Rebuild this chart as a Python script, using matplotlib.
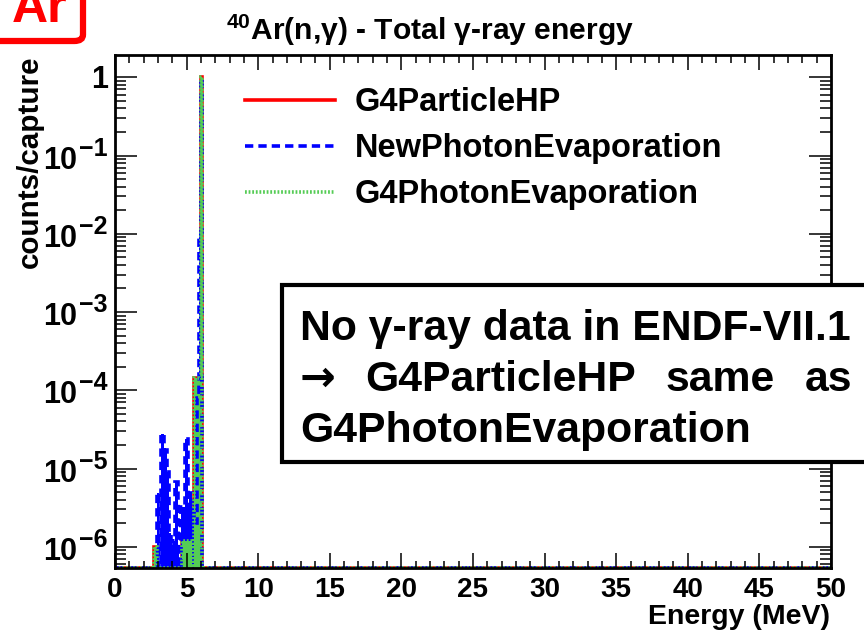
import numpy as np
import matplotlib
matplotlib.use('Agg')
from matplotlib import pyplot as plt
from matplotlib.patches import Rectangle, FancyBboxPatch
from matplotlib.transforms import blended_transform_factory, offset_copy

# lower edges of the 0.1 MeV bins that have content (everything else is empty)
bin_low = [2.7, 2.8, 2.9, 3.0, 3.1, 3.2, 3.3, 3.4, 3.5, 3.6, 3.7, 3.8, 3.9, 4.0, 4.1, 4.2, 4.3,
           4.4, 4.5, 4.6, 4.7, 4.8, 4.9, 5.0, 5.1, 5.2, 5.3, 5.4, 5.5, 5.6, 5.7, 5.8, 5.9, 6.0]

# G4ParticleHP and G4PhotonEvaporation give the same spectrum (no gamma data in ENDF-VII.1)
particle_hp = [1.0e-6, 1.0e-6, 0, 0, 0, 0, 0, 0, 0, 0, 0, 0, 0, 0, 0, 0, 0,
               0, 0, 0, 1.2e-6, 1.2e-6, 1.2e-6, 1.2e-6, 1.2e-6, 1.2e-6, 1.2e-6, 0, 1.45e-4, 1.45e-4, 1.45e-4, 1.45e-4, 1.45e-4, 1.0]
photon_evap = [1.0e-6, 1.0e-6, 0, 0, 0, 0, 0, 0, 0, 0, 0, 0, 0, 0, 0, 0, 0,
               0, 0, 0, 1.2e-6, 1.2e-6, 1.2e-6, 1.2e-6, 1.2e-6, 1.2e-6, 1.2e-6, 0, 1.45e-4, 1.45e-4, 1.45e-4, 1.45e-4, 1.45e-4, 1.0]
new_photon_evap = [0, 0, 4.8e-6, 4.8e-6, 0, 2.75e-5, 2.75e-5, 1.7e-5, 1.7e-5, 9.0e-6, 9.0e-6, 1.5e-6, 1.2e-6, 1.0e-6, 1.2e-6, 6.8e-6, 6.8e-6,
                   1.0e-6, 0, 3.2e-6, 3.2e-6, 3.2e-6, 2.4e-5, 2.4e-5, 3.2e-6, 4.9e-6, 4.9e-6, 3.2e-6, 2.0e-6, 2.0e-6, 8.0e-5, 8.0e-5, 1.0e-2, 0.98]

labels = ['G4ParticleHP', 'NewPhotonEvaporation', 'G4PhotonEvaporation']
colors = ['#ff0000', '#0000ff', '#55cc55']

y_ticks = [1e-6, 1e-5, 1e-4, 1e-3, 1e-2, 1e-1, 1]
y_tick_exp = ['−6', '−5', '−4', '−3', '−2', '−1', None]
x_ticks = [0, 5, 10, 15, 20, 25, 30, 35, 40, 45, 50]

Y_MIN = 5.35e-7
Y_MAX = 1.93
W, H = 864, 636

plt.rcParams['font.family'] = ['Liberation Sans', 'DejaVu Sans']
plt.rcParams['font.weight'] = 'bold'
plt.rcParams['mathtext.fontset'] = 'custom'
plt.rcParams['mathtext.rm'] = 'Liberation Sans:bold'
plt.rcParams['mathtext.bf'] = 'Liberation Sans:bold'
plt.rcParams['mathtext.default'] = 'bf'


def full_histogram(low_edges, values, width=0.1, x_max=50.0):
    # put the listed bins into a 0-50 MeV histogram; empty bins sit at the bottom of the log axis
    edges = np.round(np.arange(0, x_max + width / 2, width), 2)
    counts = np.zeros(len(edges) - 1)
    for lo, v in zip(low_edges, values):
        counts[int(round(lo / width))] = v
    return edges, np.maximum(counts, Y_MIN)


def px(x, y):
    return x / W, 1 - y / H


fig = plt.figure(figsize=(8.64, 6.36), dpi=100)
ax = fig.add_axes([115 / W, 1 - 568 / H, 716 / W, 513 / H])

e, hp = full_histogram(bin_low, particle_hp)
e, npe = full_histogram(bin_low, new_photon_evap)
e, pe = full_histogram(bin_low, photon_evap)

lw = 2.6
l1 = ax.stairs(hp, e, baseline=Y_MIN, color=colors[0], lw=lw, label=labels[0])
ax.stairs(npe, e, baseline=Y_MIN, fill=True, color=colors[1], lw=0)
ax.stairs(pe, e, baseline=Y_MIN, fill=True, color=colors[2], lw=0)
l2 = ax.stairs(npe, e, baseline=Y_MIN, color=colors[1], lw=lw, ls=(0, (2.3, 1.4)), label=labels[1])
l3 = ax.stairs(pe, e, baseline=Y_MIN, color=colors[2], lw=lw, ls=(0, (0.5, 0.5)), label=labels[2])

ax.set_yscale('log')
ax.set_ylim(Y_MIN, Y_MAX)
ax.set_xlim(0, 50)
ax.set_yticks(y_ticks)
ax.set_yticklabels([])
ax.set_xticks(x_ticks)
ax.set_xticks(np.arange(0, 51, 1), minor=True)
ax.yaxis.set_minor_locator(matplotlib.ticker.LogLocator(base=10, subs=np.arange(2, 10), numticks=20))
ax.yaxis.set_minor_formatter(matplotlib.ticker.NullFormatter())

ax.tick_params(which='both', direction='in', top=True, right=True, width=1.1, labelsize=20)
ax.tick_params(axis='x', which='major', length=10.8, pad=6.5)
ax.tick_params(axis='x', which='minor', length=5.4)
ax.tick_params(axis='y', which='major', length=16, pad=5)
ax.tick_params(axis='y', which='minor', length=8)
for s in ax.spines.values():
    s.set_linewidth(2)

# y tick labels written ROOT-style: "10" with a large raised exponent
ytrans = blended_transform_factory(fig.transFigure, ax.transData)
for val, ex in zip(y_ticks, y_tick_exp):
    if ex is None:
        ax.text(108 / W, val, '1', transform=offset_copy(ytrans, fig=fig, y=-3, units='dots'),
                ha='right', va='center', fontsize=22)
        continue
    ax.text(108 / W, val, ex, transform=offset_copy(ytrans, fig=fig, y=7, units='dots'),
            ha='right', va='center', fontsize=18)
    ax.text(77 / W, val, '10', transform=offset_copy(ytrans, fig=fig, y=-5, units='dots'),
            ha='right', va='center', fontsize=22)

leg = ax.legend(handles=[l1, l2, l3], loc='upper left', bbox_to_anchor=px(245, 87),
                bbox_transform=fig.transFigure, frameon=False, fontsize=23.5,
                handlelength=2.76, handletextpad=0.61, labelspacing=0.46, borderpad=0,
                borderaxespad=0)

fig.text(*px(430, 30), '$^{40}$Ar(n,γ) - Total γ-ray energy', ha='center', va='center', fontsize=21.6)
fig.text(*px(30, 55), 'counts/capture', rotation=90, ha='center', va='top', fontsize=21.3)
fig.text(*px(830, 604), 'Energy (MeV)', ha='right', va='top', fontsize=20.5)

# comment box on top of the plot
fig.patches.append(Rectangle(px(282, 462), 600 / W, 177 / H, transform=fig.transFigure,
                             facecolor='white', edgecolor='black', lw=3, zorder=5))
fig.text(*px(300, 340), 'No γ-ray data in ENDF-VII.1', ha='left', va='baseline', fontsize=30.8, zorder=6)
fig.text(*px(300, 442), 'G4PhotonEvaporation', ha='left', va='baseline', fontsize=30.8, zorder=6)

# justified second line
words = ['→', 'G4ParticleHP', 'same', 'as']
fig.canvas.draw()
renderer = fig.canvas.get_renderer()
objs = [fig.text(0, 0, w, fontsize=30.8, va='baseline', zorder=6) for w in words]
objs[0].set_family(['DejaVu Sans'])
widths = [o.get_window_extent(renderer).width for o in objs]
gap = (852 - 300 - sum(widths)) / (len(words) - 1)
x = 300
for o, wd in zip(objs, widths):
    o.set_position(px(x, 391))
    x += wd + gap

# red label box in the top-left corner
fig.patches.append(FancyBboxPatch(px(-20, 41), 103 / W, 61 / H, transform=fig.transFigure,
                                  boxstyle='round,pad=0,rounding_size=0.01', facecolor='white',
                                  edgecolor='#ff0000', lw=4.5, zorder=5))
fig.text(*px(12, 22), 'Ar', color='#ff0000', fontsize=36, ha='left', va='baseline', zorder=6)

fig.savefig('out.png', dpi=100)
